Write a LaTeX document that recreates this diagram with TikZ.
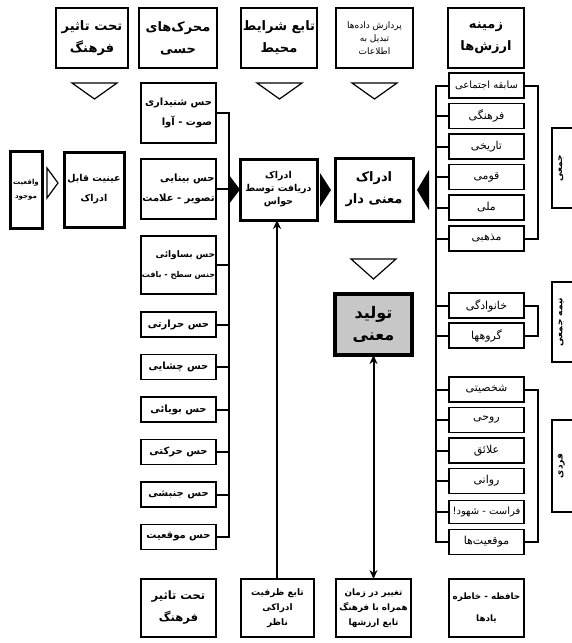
\documentclass[tikz,border=0pt]{standalone}
\usepackage{fontspec}
\newfontfamily\fa[Script=Arabic]{DejaVu Sans}
\TeXXeTstate=1
\usetikzlibrary{arrows.meta}
\newcommand{\rl}[1]{\beginR #1\endR}

\tikzset{
  frame/.style={draw, line width=1.8pt, outer sep=0pt, inner sep=1pt, align=center,
    font=\fa\bfseries\fontsize{10}{14}\selectfont},
  head/.style={frame, minimum height=60pt, font=\fa\bfseries\fontsize{13}{22}\selectfont},
  sense/.style={frame, minimum width=75pt, minimum height=25pt},
  value/.style={frame, minimum width=75pt, minimum height=25pt, font=\fa\fontsize{11}{13}\selectfont},
  key/.style={frame, line width=3pt, font=\fa\bfseries\fontsize{11}{15}\selectfont},
  foot/.style={frame, minimum height=58pt, font=\fa\bfseries\fontsize{9}{15}\selectfont},
  wire/.style={line width=2pt},
  tri/.style={line width=1.2pt},
  grp/.style={rotate=90, font=\fa\bfseries\fontsize{9}{10}\selectfont},
}

\begin{document}
\begin{tikzpicture}[x=1pt, y=-1pt]
    \useasboundingbox (0,0) rectangle (572,643);
    \clip (0,0) rectangle (572,643);
    \coordinate (busL) at (229,0);
    \coordinate (busR) at (436,0);
    \coordinate (brk) at (538,0);

    % top row
    \node[head, minimum width=72pt] (hCult) at (92,38) {\rl{تحت تاثیر}\\\rl{فرهنگ}};
    \node[head, minimum width=78pt] (hSense) at (178,38) {\rl{محرک‌های}\\\rl{حسی}};
    \node[head, minimum width=76pt] (hEnv) at (279,38) {\rl{تابع شرایط}\\\rl{محیط}};
    \node[head, minimum width=77pt, font=\fa\fontsize{9}{13}\selectfont] (hData) at (374.5,38)
      {\rl{پردازش داده‌ها}\\\rl{تبدیل به}\\\rl{اطلاعات}};
    \node[head, minimum width=76pt] (hVal) at (486,38) {\rl{زمینه}\\\rl{ارزش‌ها}};

    \draw[tri] (72,83) -- (117,83) -- (94.5,99) -- cycle;
    \draw[tri] (257,83) -- (302,83) -- (279.5,99) -- cycle;
    \draw[tri] (352,83) -- (397,83) -- (374.5,99) -- cycle;

    % senses
    \node[sense, minimum height=60pt, align=right, font=\fa\bfseries\fontsize{10}{20}\selectfont] (sHear) at (178.5,113)
      {\rl{حس شنیداری}\\\rl{صوت - آوا}};
    \node[sense, minimum height=60pt, align=right, font=\fa\bfseries\fontsize{10}{20}\selectfont] (sSee) at (178.5,189)
      {\rl{حس بینایی}\\\rl{تصویر - علامت}};
    \node[sense, minimum height=58pt, align=right, font=\fa\bfseries\fontsize{9}{20}\selectfont] (sTouch) at (178.5,265)
      {\rl{حس بساوائی}\\{\fontsize{8}{20}\selectfont\rl{جنس سطح - بافت}}};
    \node[sense] (sHeat) at (178.5,324.5) {\rl{حس حرارتی}};
    \node[sense] (sTaste) at (178.5,367) {\rl{حس چشایی}};
    \node[sense] (sSmell) at (178.5,409.5) {\rl{حس بویائی}};
    \node[sense] (sMove) at (178.5,452) {\rl{حس حرکتی}};
    \node[sense] (sMotion) at (178.5,494.5) {\rl{حس جنبشی}};
    \node[sense] (sPlace) at (178.5,537) {\rl{حس موقعیت}};

    \draw[wire] (sHear.east) -- (sHear.east -| busL) -- (sPlace.east -| busL) -- (sPlace.east);
    \draw[wire] (sSee.east) -- (sSee.east -| busL);
    \draw[wire] (sTouch.east) -- (sTouch.east -| busL);
    \draw[wire] (sHeat.east) -- (sHeat.east -| busL);
    \draw[wire] (sTaste.east) -- (sTaste.east -| busL);
    \draw[wire] (sSmell.east) -- (sSmell.east -| busL);
    \draw[wire] (sMove.east) -- (sMove.east -| busL);
    \draw[wire] (sMotion.east) -- (sMotion.east -| busL);

    % perception chain
    \node[key, minimum width=32pt, minimum height=77pt, font=\fa\bfseries\fontsize{7}{14}\selectfont]
      (real) at (26,189.5) {\rl{واقعیت}\\\rl{موجود}};
    \node[key, minimum width=60pt, minimum height=75pt, font=\fa\bfseries\fontsize{9.5}{20}\selectfont]
      (obj) at (94,189.5) {\rl{عینیت قابل}\\\rl{ادراک}};
    \node[key, minimum width=77pt, minimum height=61pt, font=\fa\bfseries\fontsize{9.5}{13}\selectfont]
      (recv) at (278.5,189.5) {\rl{ادراک}\\\rl{دریافت توسط}\\\rl{حواس}};
    \node[key, minimum width=78pt, minimum height=63pt, font=\fa\bfseries\fontsize{13}{22}\selectfont]
      (mean) at (374,189.5) {\rl{ادراک}\\\rl{معنی دار}};
    \node[key, line width=4pt, fill=black!22, minimum width=77pt, minimum height=61pt,
      font=\fa\bfseries\fontsize{16}{22}\selectfont] (make) at (373.5,324.5) {\rl{تولید}\\\rl{معنی}};

    \draw[tri] (47,168) -- (58,183) -- (47,198) -- cycle;
    \fill (229,175) -- (240,189.5) -- (229,204) -- cycle;
    \fill (320,173) -- (331,190) -- (320,207) -- cycle;
    \fill (429,170) -- (417,190) -- (429,210) -- cycle;
    \draw[tri] (351,259) -- (396,259) -- (373.5,279) -- cycle;

    % bottom row
    \node[foot, minimum width=75pt, font=\fa\bfseries\fontsize{11.5}{22}\selectfont] (fCult) at (178.5,608)
      {\rl{تحت تاثیر}\\\rl{فرهنگ}};
    \node[foot, minimum width=73pt] (fCap) at (277.5,608) {\rl{تابع ظرفیت}\\\rl{ادراکی}\\\rl{ناظر}};
    \node[foot, minimum width=75pt, font=\fa\bfseries\fontsize{8.8}{15}\selectfont] (fTime) at (373.5,608)
      {\rl{تغییر در زمان}\\\rl{همراه با فرهنگ}\\\rl{تابع ارزشها}};
    \node[foot, minimum width=75pt, font=\fa\bfseries\fontsize{8.8}{22}\selectfont] (fMem) at (486.5,608)
      {\rl{حافظه - خاطره}\\\rl{یادها}};

    \draw[wire, -{Stealth[length=9pt, width=8pt]}] (fCap.north -| 277,0) -- (recv.south -| 277,0);
    \draw[wire, {Stealth[length=9pt, width=8pt]}-{Stealth[length=9pt, width=8pt]}] (make.south) -- (fTime.north);

    % values
    \node[value, font=\fa\fontsize{10}{13}\selectfont] (vSoc) at (486.5,85.5) {\rl{سابقه اجتماعی}};
    \node[value] (vCul) at (486.5,116) {\rl{فرهنگی}};
    \node[value] (vHis) at (486.5,146.5) {\rl{تاریخی}};
    \node[value] (vEth) at (486.5,177) {\rl{قومی}};
    \node[value] (vNat) at (486.5,207.5) {\rl{ملی}};
    \node[value] (vRel) at (486.5,238.5) {\rl{مذهبی}};
    \node[value] (vFam) at (486.5,305.5) {\rl{خانوادگی}};
    \node[value] (vGrp) at (486.5,335.5) {\rl{گروهها}};
    \node[value] (vPer) at (486.5,389.5) {\rl{شخصیتی}};
    \node[value] (vSpi) at (486.5,420) {\rl{روحی}};
    \node[value] (vInt) at (486.5,450.5) {\rl{علائق}};
    \node[value] (vPsy) at (486.5,481) {\rl{روانی}};
    \node[value, minimum height=23pt, font=\fa\fontsize{10}{13}\selectfont] (vIns) at (486.5,512) {\rl{فراست - شهود!}};
    \node[value] (vSit) at (486.5,542) {\rl{موقعیت‌ها}};

    \draw[wire] (vSoc.west) -- (vSoc.west -| busR) -- (vSit.west -| busR) -- (vSit.west);
    \draw[wire] (vCul.west) -- (vCul.west -| busR);
    \draw[wire] (vHis.west) -- (vHis.west -| busR);
    \draw[wire] (vEth.west) -- (vEth.west -| busR);
    \draw[wire] (vNat.west) -- (vNat.west -| busR);
    \draw[wire] (vRel.west) -- (vRel.west -| busR);
    \draw[wire] (vFam.west) -- (vFam.west -| busR);
    \draw[wire] (vGrp.west) -- (vGrp.west -| busR);
    \draw[wire] (vPer.west) -- (vPer.west -| busR);
    \draw[wire] (vSpi.west) -- (vSpi.west -| busR);
    \draw[wire] (vInt.west) -- (vInt.west -| busR);
    \draw[wire] (vPsy.west) -- (vPsy.west -| busR);
    \draw[wire] (vIns.west) -- (vIns.west -| busR);

    % groups
    \draw[wire] (vSoc.east) -- (vSoc.east -| brk) -- (vRel.east -| brk) -- (vRel.east);
    \draw[wire] (vFam.east) -- (vFam.east -| brk) -- (vGrp.east -| brk) -- (vGrp.east);
    \draw[wire] (vPer.east) -- (vPer.east -| brk) -- (vSit.east -| brk) -- (vSit.east);

    \draw[line width=1.8pt] (552,128) rectangle (590,208);
    \draw[line width=1.8pt] (552,282) rectangle (590,362);
    \draw[line width=1.8pt] (552,420) rectangle (590,512);
    \node[grp] (gAll) at (561,168) {\rl{جمعی}};
    \node[grp] (gHalf) at (561,322) {\rl{نیمه جمعی}};
    \node[grp] (gOne) at (561,466) {\rl{فردی}};
\end{tikzpicture}
\end{document}
